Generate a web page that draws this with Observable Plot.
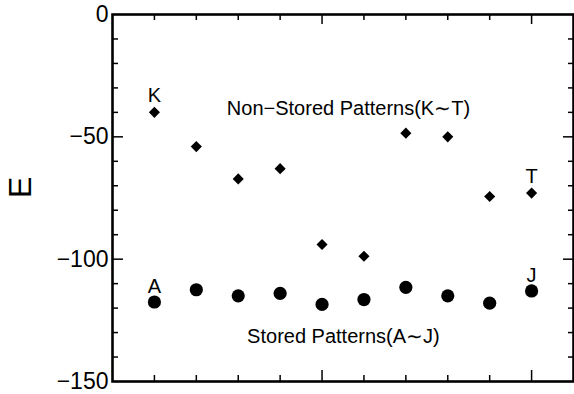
<!DOCTYPE html>
<html>
<head>
<meta charset="utf-8">
<script src="https://cdn.jsdelivr.net/npm/d3@7"></script>
<script src="https://cdn.jsdelivr.net/npm/@observablehq/plot@0.6"></script>
<style>
  html, body { margin: 0; padding: 0; background: #fff; }
  #chart svg { display: block; }
</style>
</head>
<body>
<div id="chart"></div>
<script>
// Energy E of each pattern after recall
const patternIndex = [1, 2, 3, 4, 5, 6, 7, 8, 9, 10];
const storedNames = ["A", "B", "C", "D", "E", "F", "G", "H", "I", "J"];
const nonStoredNames = ["K", "L", "M", "N", "O", "P", "Q", "R", "S", "T"];
const storedE = [-117.5, -112.5, -115, -114, -118.5, -116.5, -111.5, -115, -118, -113];
const nonStoredE = [-40, -54, -67.2, -63, -94, -98.8, -48.5, -50, -74.4, -73];

// axis ticks
const yTickValues = [0, -50, -100, -150];
const yMajorTicks = [-50, -100];
const yMinorTicks = [-10, -20, -30, -40, -60, -70, -80, -90, -110, -120, -130, -140];
const xMajorTicks = [5, 10];
const xMinorTicks = [1, 2, 3, 4, 6, 7, 8, 9];

const stored = patternIndex.map((x, i) => ({x, e: storedE[i], name: storedNames[i]}));
const nonStored = patternIndex.map((x, i) => ({x, e: nonStoredE[i], name: nonStoredNames[i]}));
const storedEnds = [stored[0], stored[stored.length - 1]];
const nonStoredEnds = [nonStored[0], nonStored[nonStored.length - 1]];

const width = 574, height = 394;
const margin = {top: 14, right: 1, bottom: 13, left: 112};
const innerW = width - margin.left - margin.right;
const innerH = height - margin.top - margin.bottom;

const minus = d => d < 0 ? "\u2212" + Math.abs(d) : String(d);

// inward tick helpers (ticks start at a frame edge and point inside)
const ticksTop = (vals, len) => Plot.tickX(vals, {x: d => d, insetBottom: innerH - len, stroke: "black", strokeWidth: 1.5});
const ticksBottom = (vals, len) => Plot.tickX(vals, {x: d => d, insetTop: innerH - len, stroke: "black", strokeWidth: 1.5});
const ticksLeft = (vals, len) => Plot.tickY(vals, {y: d => d, insetRight: innerW - len, stroke: "black", strokeWidth: 1.5});
const ticksRight = (vals, len) => Plot.tickY(vals, {y: d => d, insetLeft: innerW - len, stroke: "black", strokeWidth: 1.5});

const chart = Plot.plot({
  width, height,
  marginTop: margin.top, marginRight: margin.right,
  marginBottom: margin.bottom, marginLeft: margin.left,
  style: {fontFamily: "'Liberation Sans', Arial, Helvetica, sans-serif", background: "#fff", color: "#000"},
  x: {domain: [0, 11], axis: null},
  y: {domain: [-150, 0], axis: null},
  marks: [
    Plot.axisY({ticks: yTickValues, tickSize: 0, tickPadding: 4, tickFormat: minus, fontSize: 23, label: null}),
    Plot.text(["E"], {frameAnchor: "left", dx: -92, rotate: -90, fontSize: 32, fill: "black"}),
    ticksTop(xMinorTicks, 6), ticksTop(xMajorTicks, 10),
    ticksBottom(xMinorTicks, 6), ticksBottom(xMajorTicks, 11),
    ticksLeft(yMinorTicks, 6), ticksLeft(yMajorTicks, 11),
    ticksRight(yMinorTicks, 5), ticksRight(yMajorTicks, 10),
    Plot.frame({stroke: "black", strokeWidth: 2.6}),
    Plot.dot(nonStored, {x: "x", y: "e", symbol: "diamond2", r: 5, fill: "black", stroke: null}),
    Plot.dot(stored, {x: "x", y: "e", symbol: "circle", r: 6.6, fill: "black", stroke: null}),
    Plot.text(nonStoredEnds, {x: "x", y: "e", text: "name", dy: -17, fontSize: 20, fill: "black", lineAnchor: "middle"}),
    Plot.text(storedEnds, {x: "x", y: "e", text: "name", dy: -15, fontSize: 20, fill: "black", lineAnchor: "middle"}),
    Plot.text(["Non\u2212Stored Patterns(K\u223CT)"], {x: 5.63, y: -38.4, fontSize: 20, fill: "black", lineAnchor: "middle"}),
    Plot.text(["Stored Patterns(A\u223CJ)"], {x: 5.51, y: -131.6, fontSize: 20, fill: "black", lineAnchor: "middle"})
  ]
});
document.getElementById("chart").appendChild(chart);
</script>
</body>
</html>
